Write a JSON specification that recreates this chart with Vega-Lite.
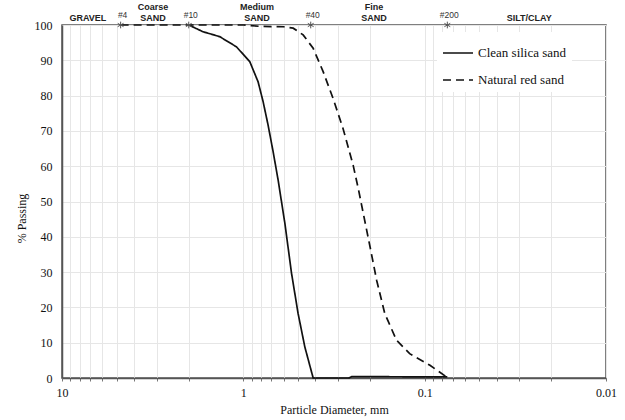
{
  "$schema": "https://vega.github.io/schema/vega-lite/v6.json",
  "width": 544,
  "height": 353,
  "autosize": {"type": "none"},
  "padding": {"left": 62, "top": 25, "right": 19, "bottom": 42},
  "background": "white",
  "config": {
    "view": {"stroke": "#555", "strokeWidth": 1.5},
    "axis": {
      "labelFont": "Liberation Serif",
      "labelFontSize": 12,
      "labelColor": "#111",
      "titleFont": "Liberation Serif",
      "titleFontSize": 12,
      "titleFontWeight": "normal",
      "titleColor": "#111",
      "gridColor": "#e6e6e6",
      "gridWidth": 1,
      "domainColor": "#555",
      "domainWidth": 1.5,
      "tickColor": "#777"
    }
  },
  "datasets": {
    "curves": [
      {"series": "Clean silica sand", "d": 2.0, "p": 100},
      {"series": "Clean silica sand", "d": 1.67, "p": 98.1},
      {"series": "Clean silica sand", "d": 1.35, "p": 96.7},
      {"series": "Clean silica sand", "d": 1.09, "p": 93.8},
      {"series": "Clean silica sand", "d": 0.921, "p": 89.6},
      {"series": "Clean silica sand", "d": 0.829, "p": 83.9},
      {"series": "Clean silica sand", "d": 0.778, "p": 78.3},
      {"series": "Clean silica sand", "d": 0.73, "p": 71.6},
      {"series": "Clean silica sand", "d": 0.685, "p": 64.1},
      {"series": "Clean silica sand", "d": 0.643, "p": 56.1},
      {"series": "Clean silica sand", "d": 0.59, "p": 43.8},
      {"series": "Clean silica sand", "d": 0.542, "p": 29.6},
      {"series": "Clean silica sand", "d": 0.499, "p": 18.3},
      {"series": "Clean silica sand", "d": 0.458, "p": 8.8},
      {"series": "Clean silica sand", "d": 0.412, "p": 0},
      {"series": "Clean silica sand", "d": 0.262, "p": 0},
      {"series": "Clean silica sand", "d": 0.252, "p": 0.4},
      {"series": "Clean silica sand", "d": 0.075, "p": 0.3},
      {"series": "Natural red sand", "d": 4.75, "p": 100},
      {"series": "Natural red sand", "d": 1.0, "p": 100},
      {"series": "Natural red sand", "d": 0.8, "p": 99.6},
      {"series": "Natural red sand", "d": 0.6, "p": 99.5},
      {"series": "Natural red sand", "d": 0.531, "p": 99.1},
      {"series": "Natural red sand", "d": 0.468, "p": 97.2},
      {"series": "Natural red sand", "d": 0.412, "p": 93.4},
      {"series": "Natural red sand", "d": 0.363, "p": 86.8},
      {"series": "Natural red sand", "d": 0.32, "p": 79.2},
      {"series": "Natural red sand", "d": 0.282, "p": 70.7},
      {"series": "Natural red sand", "d": 0.248, "p": 60.3},
      {"series": "Natural red sand", "d": 0.232, "p": 53.5},
      {"series": "Natural red sand", "d": 0.218, "p": 46.6},
      {"series": "Natural red sand", "d": 0.2, "p": 37.1},
      {"series": "Natural red sand", "d": 0.184, "p": 27.7},
      {"series": "Natural red sand", "d": 0.166, "p": 18.3},
      {"series": "Natural red sand", "d": 0.143, "p": 10.7},
      {"series": "Natural red sand", "d": 0.121, "p": 6.9},
      {"series": "Natural red sand", "d": 0.0935, "p": 3.6},
      {"series": "Natural red sand", "d": 0.0757, "p": 0.3}
    ],
    "sieves": [
      {"label": "#4", "d": 4.75},
      {"label": "#10", "d": 2.0},
      {"label": "#40", "d": 0.425},
      {"label": "#200", "d": 0.075}
    ],
    "zones": [
      {"upper": "", "lower": "GRAVEL", "d": 7.2},
      {"upper": "Coarse", "lower": "SAND", "d": 3.15},
      {"upper": "Medium", "lower": "SAND", "d": 0.84},
      {"upper": "Fine", "lower": "SAND", "d": 0.19},
      {"upper": "", "lower": "SILT/CLAY", "d": 0.0265}
    ]
  },
  "layer": [
    {
      "data": {"name": "curves"},
      "mark": {"type": "line", "color": "#111", "strokeWidth": 1.7},
      "encoding": {
        "x": {
          "field": "d",
          "type": "quantitative",
          "scale": {"type": "log", "domain": [0.01, 10], "reverse": true, "nice": false},
          "axis": {
            "title": "Particle Diameter, mm",
            "values": [10, 9, 8, 7, 6, 5, 4, 3, 2, 1, 0.9, 0.8, 0.7, 0.6, 0.5, 0.4, 0.3, 0.2, 0.1, 0.09, 0.08, 0.07, 0.06, 0.05, 0.04, 0.03, 0.02, 0.01],
            "labelExpr": "indexof([10, 1, 0.1, 0.01], datum.value) >= 0 ? format(datum.value, '~g') : ''",
            "grid": true,
            "tickSize": 3,
            "labelPadding": 6,
            "labelFlush": false,
            "labelOverlap": false,
            "titlePadding": 6
          }
        },
        "y": {
          "field": "p",
          "type": "quantitative",
          "scale": {"domain": [0, 100], "nice": false},
          "axis": {
            "title": "% Passing",
            "values": [0, 10, 20, 30, 40, 50, 60, 70, 80, 90, 100],
            "grid": true,
            "ticks": false,
            "labelPadding": 10,
            "labelOverlap": false,
            "labelFlush": false,
            "titleX": -34,
            "titleY": 193,
            "titleBaseline": "bottom"
          }
        },
        "strokeDash": {
          "field": "series",
          "type": "nominal",
          "scale": {"domain": ["Clean silica sand", "Natural red sand"], "range": [[1, 0], [8, 5]]},
          "legend": {
            "title": null,
            "orient": "none",
            "legendX": 375,
            "legendY": 7,
            "padding": 5,
            "fillColor": "white",
            "symbolType": "stroke",
            "symbolSize": 900,
            "symbolStrokeWidth": 1.5,
            "symbolStrokeColor": "#111",
            "labelFont": "Liberation Serif",
            "labelFontSize": 13,
            "labelColor": "#111",
            "labelOffset": 4,
            "rowPadding": 4
          }
        }
      }
    },
    {
      "data": {"name": "sieves"},
      "mark": {
        "type": "point",
        "shape": "M0,-1L0,1M-0.87,-0.5L0.87,0.5M-0.87,0.5L0.87,-0.5",
        "filled": false,
        "stroke": "#555",
        "strokeWidth": 1,
        "size": 45,
        "opacity": 1
      },
      "encoding": {
        "x": {"field": "d", "type": "quantitative"},
        "y": {"datum": 100, "type": "quantitative", "axis": {
            "title": "% Passing",
            "values": [0, 10, 20, 30, 40, 50, 60, 70, 80, 90, 100],
            "grid": true,
            "ticks": false,
            "labelPadding": 10,
            "labelOverlap": false,
            "labelFlush": false,
            "titleX": -34,
            "titleY": 193,
            "titleBaseline": "bottom"
          }}
      }
    },
    {
      "data": {"name": "sieves"},
      "mark": {
        "type": "text",
        "font": "Liberation Sans",
        "fontSize": 8.5,
        "color": "#333",
        "dx": 2,
        "dy": -7,
        "baseline": "alphabetic",
        "align": "center"
      },
      "encoding": {
        "x": {"field": "d", "type": "quantitative"},
        "y": {"datum": 100, "type": "quantitative", "axis": {
            "title": "% Passing",
            "values": [0, 10, 20, 30, 40, 50, 60, 70, 80, 90, 100],
            "grid": true,
            "ticks": false,
            "labelPadding": 10,
            "labelOverlap": false,
            "labelFlush": false,
            "titleX": -34,
            "titleY": 193,
            "titleBaseline": "bottom"
          }},
        "text": {"field": "label"}
      }
    },
    {
      "data": {"name": "zones"},
      "mark": {
        "type": "text",
        "font": "Liberation Sans",
        "fontSize": 9,
        "fontWeight": "bold",
        "color": "#222",
        "baseline": "alphabetic",
        "dy": -4.5,
        "align": "center"
      },
      "encoding": {
        "x": {"field": "d", "type": "quantitative"},
        "y": {"datum": 100, "type": "quantitative", "axis": {
            "title": "% Passing",
            "values": [0, 10, 20, 30, 40, 50, 60, 70, 80, 90, 100],
            "grid": true,
            "ticks": false,
            "labelPadding": 10,
            "labelOverlap": false,
            "labelFlush": false,
            "titleX": -34,
            "titleY": 193,
            "titleBaseline": "bottom"
          }},
        "text": {"field": "lower"}
      }
    },
    {
      "data": {"name": "zones"},
      "mark": {
        "type": "text",
        "font": "Liberation Sans",
        "fontSize": 9,
        "fontWeight": "bold",
        "color": "#222",
        "baseline": "alphabetic",
        "dy": -15,
        "align": "center"
      },
      "encoding": {
        "x": {"field": "d", "type": "quantitative"},
        "y": {"datum": 100, "type": "quantitative", "axis": {
            "title": "% Passing",
            "values": [0, 10, 20, 30, 40, 50, 60, 70, 80, 90, 100],
            "grid": true,
            "ticks": false,
            "labelPadding": 10,
            "labelOverlap": false,
            "labelFlush": false,
            "titleX": -34,
            "titleY": 193,
            "titleBaseline": "bottom"
          }},
        "text": {"field": "upper"}
      }
    }
  ]
}
